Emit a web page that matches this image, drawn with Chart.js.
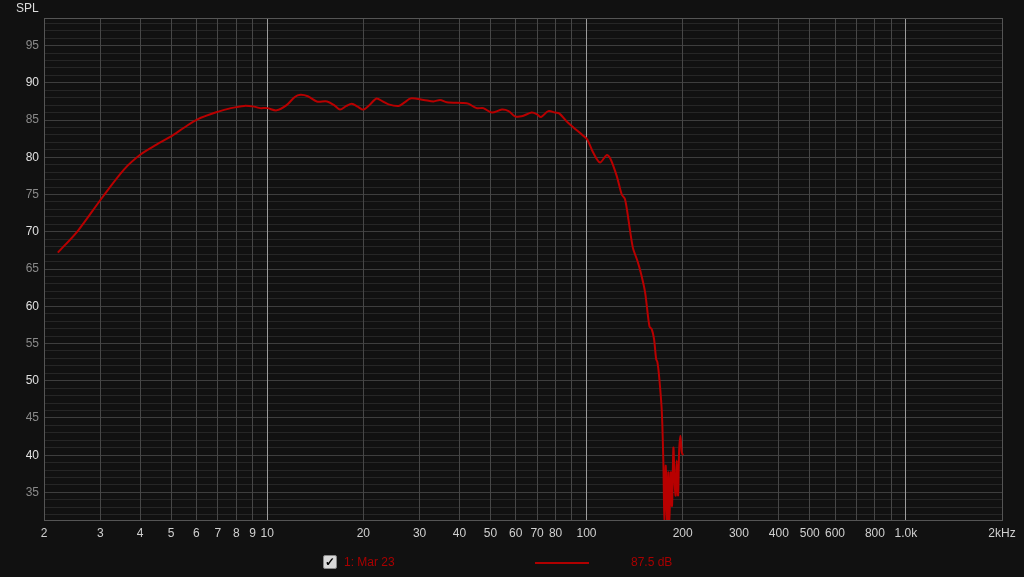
<!DOCTYPE html>
<html>
<head>
<meta charset="utf-8">
<script src="https://cdn.jsdelivr.net/npm/chart.js@4/dist/chart.umd.min.js"></script>
<style>
    body { margin: 0; background: #111111; font-family: "Liberation Sans", Arial, sans-serif; }
    #wrap { position: relative; width: 1024px; height: 577px; }
    #spl { position: absolute; left: 16px; top: 1px; color: #dcdcdc; font-size: 12px; }
    .legend { position: absolute; top: 555px; font-size: 12px; color: #a80000; }
    #check { position: absolute; left: 323px; top: 555px; width: 12px; height: 12px; background: #d8d8d8;
             border: 1px solid #888; border-radius: 2px; color: #000; font-size: 12px; line-height: 12px; text-align: center; font-weight: bold; }
    #swatch { position: absolute; left: 535px; top: 562px; width: 54px; height: 2px; background: #b00000; }
</style>
</head>
<body>
<div id="wrap">
    <canvas id="splChart" width="1024" height="577"></canvas>
    <div id="spl">SPL</div>
    <div id="check">&#10003;</div>
    <div class="legend" style="left:344px">1: Mar 23</div>
    <div id="swatch"></div>
    <div class="legend" style="left:631px">87.5 dB</div>
</div>
<script>
// Frequency response (Hz, dB SPL)
const freqs = [2.21, 2.55, 3.02, 3.57, 4.02, 4.5, 5.0, 5.5, 6.05, 6.99, 7.7, 8.47, 9.1, 9.5, 10.0, 10.7,
    11.5, 12.2, 12.7, 13.4, 14.3, 15.4, 16.2, 16.9, 17.7, 18.4, 19.2, 20.0, 21.0, 22.0, 23.0, 24.0, 25.8,
    27.0, 28.1, 30.9, 33.2, 34.8, 36.5, 41.1, 42.6, 45.3, 47.5, 50.5, 54.3, 57.0, 59.7, 62.6, 67.3, 69.8,
    72.0, 75.9, 79.7, 82.1, 86.7, 91.0, 97.0, 100.5, 105, 110.2, 115.6, 118.5, 124.3, 128.9, 131.9, 135.2,
    139.6, 144.3, 147.9, 152.5, 157.4, 160.1, 162.7, 165.2, 166.7, 169.1, 172.1, 174.1, 175.4, 177.1,
    179.1, 180.3, 181.6, 183.5, 185.2, 187.1, 188.9, 190.2, 191.6, 193.5, 194.9, 196.8, 198.7, 200.5];
const spl = [67.2, 70.1, 74.4, 78.4, 80.4, 81.7, 82.8, 84.0, 85.1, 86.1, 86.6, 86.9, 86.8, 86.6, 86.6, 86.3,
    87.0, 88.1, 88.4, 88.2, 87.5, 87.5, 87.0, 86.4, 86.9, 87.2, 86.8, 86.4, 87.1, 87.9, 87.5, 87.1, 86.9,
    87.4, 87.9, 87.7, 87.5, 87.7, 87.4, 87.3, 87.2, 86.6, 86.6, 86.0, 86.4, 86.2, 85.5, 85.5, 86.0, 85.8,
    85.4, 86.2, 86.0, 85.9, 84.8, 84.0, 83.0, 82.4, 80.6, 79.3, 80.3, 79.9, 77.5, 75.0, 74.4, 71.7,
    67.9, 66.1, 64.5, 61.9, 57.3, 56.9, 55.6, 52.9, 52.5, 50.2, 45.8, 38.6, 30.5, 38.6,
    30.0, 37.7, 30.5, 37.7, 33.2, 41.0, 35.9, 34.6, 39.3, 34.6, 40.4, 42.6, 40.4, 40.0];

// Axis ticks
const xTickValues = [2, 3, 4, 5, 6, 7, 8, 9, 10, 20, 30, 40, 50, 60, 70, 80, 90,
    100, 200, 300, 400, 500, 600, 700, 800, 900, 1000, 2000];
const xTickLabels = ['2', '3', '4', '5', '6', '7', '8', '9', '10', '20', '30', '40', '50', '60', '70', '80', '',
    '100', '200', '300', '400', '500', '600', '', '800', '', '1.0k', '2kHz'];
const yLabels = [35, 40, 45, 50, 55, 60, 65, 70, 75, 80, 85, 90, 95];
const yMin = 31.3, yMax = 98.7;

const yGrid = [];
for (let v = Math.ceil(yMin); v <= Math.floor(yMax); v++) yGrid.push(v);

// Frame around the plot area
const framePlugin = {
    id: 'frame',
    beforeDatasetsDraw(chart) {
        const a = chart.chartArea, c = chart.ctx;
        c.save();
        c.strokeStyle = '#555555';
        c.lineWidth = 1;
        c.strokeRect(Math.round(a.left) + 0.5, Math.round(a.top) + 0.5,
            Math.round(a.right - a.left), Math.round(a.bottom - a.top));
        c.restore();
    }
};

document.addEventListener('DOMContentLoaded', () => {
    new Chart(document.getElementById('splChart'), {
        type: 'line',
        data: {
            datasets: [{
                label: '1: Mar 23',
                data: freqs.map((f, i) => ({ x: f, y: spl[i] })),
                borderColor: '#b80000',
                borderWidth: 2,
                pointRadius: 0,
                tension: 0.3,
                fill: false
            }]
        },
        options: {
            responsive: false,
            animation: false,
            layout: { padding: { top: 18, right: 22, left: 0, bottom: 0 } },
            plugins: { legend: { display: false }, tooltip: { enabled: false } },
            scales: {
                x: {
                    type: 'logarithmic',
                    min: 2,
                    max: 2000,
                    afterFit: s => { s.height = 57; },
                    afterBuildTicks: s => { s.ticks = xTickValues.map(v => ({ value: v })); },
                    border: { display: false },
                    grid: {
                        z: 0, // vertical lines over the horizontal ones
                        drawTicks: false,
                        color: ctx => [10, 100, 1000].includes(ctx.tick.value) ? '#9c9c9c' : '#474747'
                    },
                    ticks: {
                        autoSkip: false,
                        maxRotation: 0,
                        padding: 6,
                        color: '#d0d0d0',
                        font: { family: 'Liberation Sans', size: 12 },
                        callback: (v, i) => xTickLabels[xTickValues.indexOf(v)] || ''
                    }
                },
                y: {
                    min: yMin,
                    max: yMax,
                    afterFit: s => { s.width = 44; },
                    afterBuildTicks: s => { s.ticks = yGrid.map(v => ({ value: v })); },
                    border: { display: false },
                    grid: {
                        z: -1,
                        drawTicks: false,
                        color: ctx => ctx.tick.value % 5 === 0 ? '#3e3e3e' : '#262626'
                    },
                    ticks: {
                        autoSkip: false,
                        padding: 5,
                        color: ctx => ctx.tick.value % 10 === 0 ? '#e0e0e0' : '#8a8a8a',
                        font: { family: 'Liberation Sans', size: 12 },
                        callback: v => yLabels.includes(v) ? String(v) : ''
                    }
                }
            }
        },
        plugins: [framePlugin]
    });
});
</script>
</body>
</html>
